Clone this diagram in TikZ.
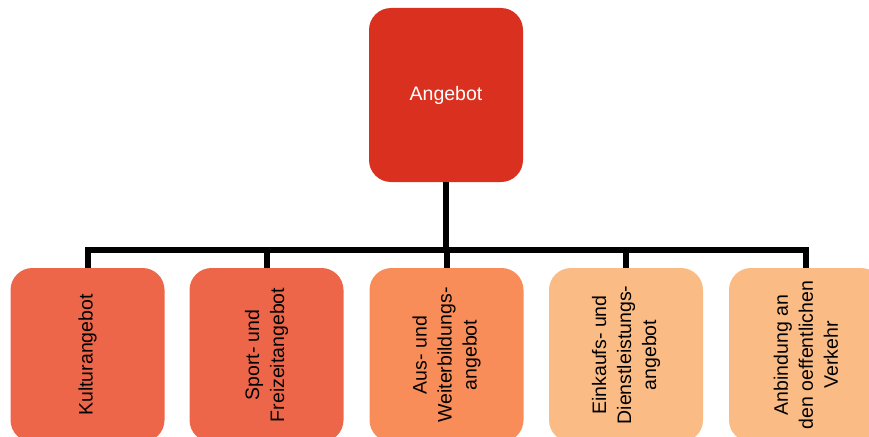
\documentclass[tikz,border=0pt]{standalone}
\usepackage{fontspec}
\setmainfont{Liberation Sans}
\definecolor{topred}{RGB}{217,48,31}
\definecolor{coral}{RGB}{238,102,74}
\definecolor{salmon}{RGB}{249,141,90}
\definecolor{peach}{RGB}{250,187,133}
\tikzset{
  box/.style={rectangle, rounded corners=22pt, draw=none, inner sep=0pt,
    align=center, font=\fontsize{19.5}{25}\selectfont},
  rootbox/.style={box, fill=topred, text=white, minimum width=154pt, minimum height=174pt},
  leafbox/.style={box, rotate=90, text=black, minimum width=174pt, minimum height=154pt},
  link/.style={line width=6pt, black, line join=miter, line cap=butt}
}
\begin{document}
\begin{tikzpicture}[x=1pt, y=-1pt]
  \useasboundingbox (0,0) rectangle (869,436);
  \clip (0,0) rectangle (869,436);
  \node[rootbox] (root) at (446,95) {Angebot};
  \node[leafbox, fill=coral]  (k1) at (87.5,355) {Kulturangebot};
  \node[leafbox, fill=coral]  (k2) at (266.5,355) {Sport- und\\Freizeitangebot};
  \node[leafbox, fill=salmon] (k3) at (446.5,355) {Aus- und\\Weiterbildungs-\\angebot};
  \node[leafbox, fill=peach]  (k4) at (626,355) {Einkaufs- und\\Dienstleistungs-\\angebot};
  \node[leafbox, fill=peach]  (k5) at (806,355) {Anbindung an\\den oeffentlichen\\Verkehr};
  % bus bar between the root and its children
  \coordinate (bar) at (446,250);
  \draw[link] (root.south) -- (bar);
  \draw[link] (k1.east) |- (k5.east |- bar) -- (k5.east);
  \foreach \c in {k2,k3,k4}
    \draw[link] (\c.east) -- (\c.east |- bar);
\end{tikzpicture}
\end{document}
